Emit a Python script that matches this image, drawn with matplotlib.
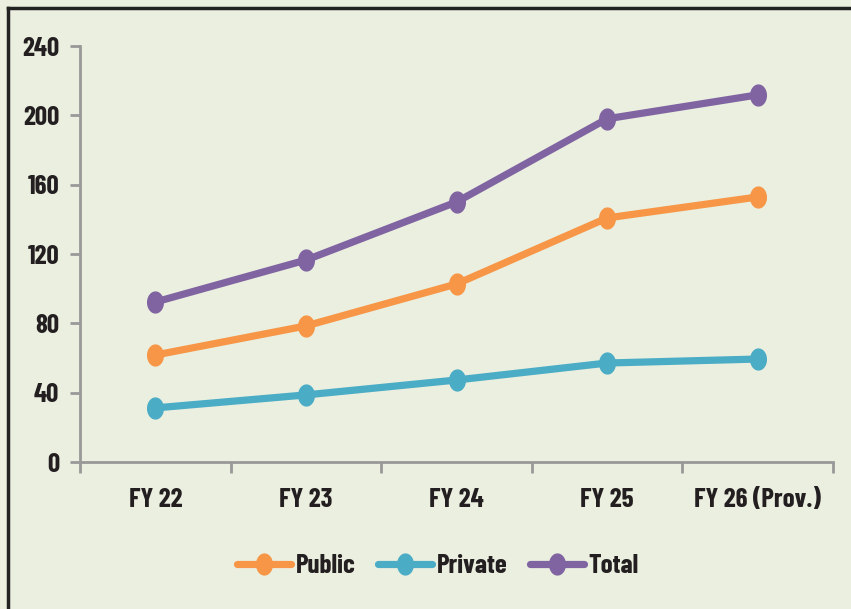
import matplotlib
matplotlib.use("Agg")
import matplotlib.pyplot as plt
from matplotlib.path import Path
from matplotlib.lines import Line2D
from matplotlib import font_manager as fm
import numpy as np
import os

categories = ["FY 22", "FY 23", "FY 24", "FY 25", "FY 26 (Prov.)"]
public = [61.7, 78.5, 102.7, 140.8, 152.9]
private = [31.2, 38.7, 47.3, 57.1, 59.4]
total = [92.3, 116.5, 150.0, 198.0, 211.8]
yticks = [0, 40, 80, 120, 160, 200, 240]

files = {os.path.basename(f.fname): f.fname for f in fm.fontManager.ttflist}
fp_kw = dict(family='DejaVu Sans', weight='bold', stretch='condensed')
for cand in ['BarlowCondensed-Bold.ttf', 'BarlowCondensed-SemiBold.ttf', 'RobotoCondensed-Bold.ttf', 'DejaVuSansCondensed-Bold.ttf']:
    if cand in files:
        fp_kw = dict(fname=files[cand])
        break
SZ = 19.5
fp = fm.FontProperties(size=SZ, **fp_kw)

BG = '#EBEFE0'
TXT = '#231f20'
W, H = 851, 609
fig = plt.figure(figsize=(W/100, H/100), dpi=100, facecolor=BG)

ax = fig.add_axes([80/W, 1-462/H, (833-80)/W, (462-46)/H])
ax.set_facecolor(BG)

t = np.linspace(0, 2*np.pi, 60)
ell = Path(np.column_stack([0.75*np.cos(t), np.sin(t)]), closed=True)

x = np.arange(len(categories))
series = [("Public", public, '#F79646'), ("Private", private, '#4BACC6'), ("Total", total, '#8064A2')]
for name, vals, c in series:
    ax.plot(x, vals, color=c, lw=5.2, marker=ell, markersize=15, label=name,
            solid_capstyle='round', solid_joinstyle='round')

ax.set_xlim(-0.5, len(categories)-0.5)
ax.set_ylim(0, 240)
ax.set_yticks(yticks)
ax.set_yticklabels([str(v) for v in yticks], fontproperties=fp, color=TXT)
ax.set_xticks(x)
ax.set_xticklabels(categories, fontproperties=fp, color=TXT)
ax.set_xticks(np.arange(-0.5, len(categories), 1.0), minor=True)
ax.tick_params(axis='x', which='major', length=0, pad=19)
ax.tick_params(axis='x', which='minor', length=8, width=2, color='#999999', direction='out')
ax.tick_params(axis='y', length=7, width=2, color='#999999', pad=8)
for s in ['top', 'right']:
    ax.spines[s].set_visible(False)
for s in ['left', 'bottom']:
    ax.spines[s].set_color('#999999')
    ax.spines[s].set_linewidth(2)

leg = fig.legend(loc='center', bbox_to_anchor=(438/W, 1-566/H), ncol=3, frameon=False,
                 prop=fp, handlelength=2.0, columnspacing=0.85,
                 handletextpad=0.15, markerscale=1.0)
for txt in leg.get_texts():
    txt.set_color(TXT)

fig.add_artist(Line2D([8/W, 8/W], [0, 1-8/H], transform=fig.transFigure, color='#222222', lw=2.5))
fig.add_artist(Line2D([8/W, 1], [1-8/H, 1-8/H], transform=fig.transFigure, color='#222222', lw=2.5))

fig.savefig('out.png', dpi=100, facecolor=BG)
